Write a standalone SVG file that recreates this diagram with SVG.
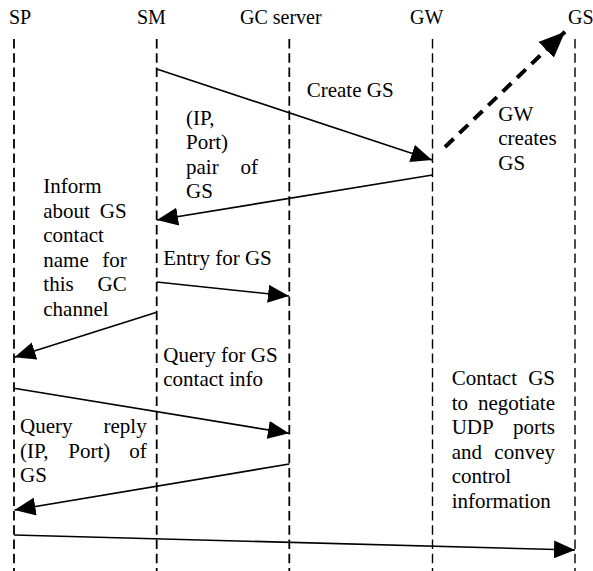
<svg xmlns="http://www.w3.org/2000/svg" width="593" height="571" viewBox="0 0 593 571" font-family="Liberation Serif, Times New Roman, serif">
  <style>
    text { fill: #000; }
    .head { font-size: 20px; }
    .lbl { font-size: 21px; }
    .end { text-anchor: end; }
    .life { stroke: #000; stroke-width: 1.8; stroke-dasharray: 9.5 4.8; fill: none; }
    .life.thin { stroke-width: 1.4; }
    .msg { stroke: #000; stroke-width: 1.6; fill: none; marker-end: url(#ah); }
    .create { stroke: #000; stroke-width: 4; stroke-dasharray: 12 8; fill: none; marker-end: url(#ahBig); }
  </style>
  <defs>
    <marker id="ah" viewBox="0 0 21 18" refX="21" refY="9" markerWidth="21" markerHeight="18" markerUnits="userSpaceOnUse" orient="auto">
      <path d="M0,0 L21,9 L0,18 z" fill="#000"/>
    </marker>
    <marker id="ahBig" viewBox="0 0 26 22" refX="26" refY="11" markerWidth="26" markerHeight="22" markerUnits="userSpaceOnUse" orient="auto">
      <path d="M0,0 L26,11 L0,22 z" fill="#000"/>
    </marker>
  </defs>
  <rect width="593" height="571" fill="#fff"/>

  <!-- participants: header + lifeline -->
  <g id="sp">
    <text class="head" x="9" y="24">SP</text>
    <line class="life" x1="14" y1="39" x2="14" y2="571"/>
  </g>
  <g id="sm">
    <text class="head" x="137" y="24">SM</text>
    <line class="life" x1="156.7" y1="39" x2="156.7" y2="571"/>
  </g>
  <g id="gc-server">
    <text class="head" x="240" y="24">GC server</text>
    <line class="life" x1="289.3" y1="39" x2="289.3" y2="571"/>
  </g>
  <g id="gw">
    <text class="head" x="410" y="24">GW</text>
    <line class="life thin" x1="432.5" y1="39" x2="432.5" y2="571"/>
  </g>
  <g id="gs">
    <text class="head" x="568" y="24">GS</text>
    <line class="life thin" x1="575" y1="39" x2="575" y2="571"/>
  </g>

  <!-- messages -->
  <g id="connectors">
    <line class="msg" x1="156.7" y1="69" x2="432" y2="160"/>
    <line class="create" x1="445" y1="147" x2="565" y2="31.7"/>
    <line class="msg" x1="432.5" y1="175" x2="157" y2="220"/>
    <line class="msg" x1="156.7" y1="282" x2="289" y2="296"/>
    <line class="msg" x1="156.7" y1="312.3" x2="14.5" y2="357.3"/>
    <line class="msg" x1="14" y1="388.3" x2="289" y2="433.3"/>
    <line class="msg" x1="289.3" y1="464" x2="14.5" y2="510"/>
    <line class="msg" x1="14" y1="535" x2="575" y2="550"/>
  </g>

  <!-- message labels -->
  <g id="labels">
    <text class="lbl" x="306.7" y="96.7">Create GS</text>

    <text class="lbl" x="186" y="124.5">(IP,</text>
    <text class="lbl" x="186" y="149">Port)</text>
    <text class="lbl" x="186" y="173.5">pair</text>
    <text class="lbl end" x="258" y="173.5">of</text>
    <text class="lbl" x="186" y="198">GS</text>

    <text class="lbl" x="498.3" y="120.7">GW</text>
    <text class="lbl" x="498.3" y="145.2">creates</text>
    <text class="lbl" x="498.3" y="169.7">GS</text>

    <text class="lbl" x="43.3" y="193.3">Inform</text>
    <text class="lbl" x="43.3" y="217.8">about</text>
    <text class="lbl end" x="126.7" y="217.8">GS</text>
    <text class="lbl" x="43.3" y="242.3">contact</text>
    <text class="lbl" x="43.3" y="266.8">name</text>
    <text class="lbl end" x="126.7" y="266.8">for</text>
    <text class="lbl" x="43.3" y="291.3">this</text>
    <text class="lbl end" x="126.7" y="291.3">GC</text>
    <text class="lbl" x="43.3" y="315.8">channel</text>

    <text class="lbl" x="163.3" y="265">Entry for GS</text>

    <text class="lbl" x="163.3" y="361.5">Query for GS</text>
    <text class="lbl" x="163.3" y="386">contact info</text>

    <text class="lbl" x="20" y="433.3">Query</text>
    <text class="lbl end" x="146.7" y="433.3">reply</text>
    <text class="lbl" x="20" y="457.8">(IP,</text>
    <text class="lbl" x="68.3" y="457.8">Port)</text>
    <text class="lbl end" x="146.7" y="457.8">of</text>
    <text class="lbl" x="20" y="482.3">GS</text>

    <text class="lbl" x="451.7" y="385">Contact</text>
    <text class="lbl end" x="555" y="385">GS</text>
    <text class="lbl" x="451.7" y="409.5">to</text>
    <text class="lbl end" x="555" y="409.5">negotiate</text>
    <text class="lbl" x="451.7" y="434">UDP</text>
    <text class="lbl end" x="555" y="434">ports</text>
    <text class="lbl" x="451.7" y="458.5">and</text>
    <text class="lbl end" x="555" y="458.5">convey</text>
    <text class="lbl" x="451.7" y="483">control</text>
    <text class="lbl" x="451.7" y="507.5">information</text>
  </g>
</svg>
